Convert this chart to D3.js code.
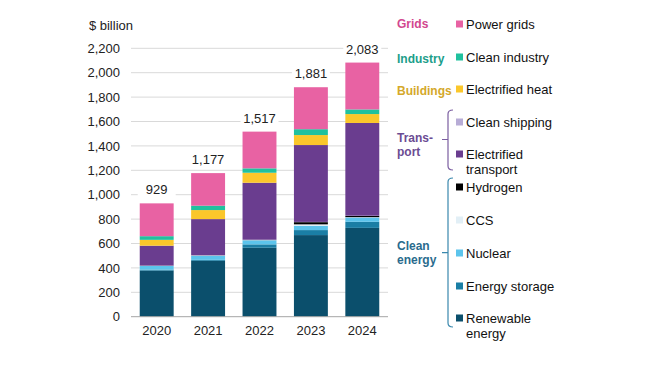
<!DOCTYPE html>
<html><head><meta charset="utf-8">
<script src="https://cdn.jsdelivr.net/npm/d3@7"></script>
<style>
html,body{margin:0;padding:0;background:#fff;}
svg{display:block;font-family:"Liberation Sans",Arial,sans-serif;}
</style></head>
<body><svg id="c" width="649" height="365"></svg>
<script>
const years = ["2020","2021","2022","2023","2024"];
const renewable = [378, 458, 565, 669, 728];
const storage   = [8, 8, 28, 41, 50];
const nuclear   = [30, 33, 33, 35, 35];
const ccs       = [1, 2, 2, 12, 3];
const hydrogen  = [1, 1, 1, 18, 10];
const shipping  = [1, 2, 2, 2, 2];
const transport = [163, 296, 467, 630, 760];
const heat      = [48, 74, 82, 82, 73];
const industry  = [30, 36, 36, 48, 38];
const grids     = [269, 267, 301, 344, 384];
const totals    = [929, 1177, 1517, 1881, 2083];
const yTicks = [0,200,400,600,800,1000,1200,1400,1600,1800,2000,2200];

const seriesNames = ["Renewable energy","Energy storage","Nuclear","CCS","Hydrogen","Clean shipping","Electrified transport","Electrified heat","Clean industry","Power grids"];
const seriesVals = [renewable, storage, nuclear, ccs, hydrogen, shipping, transport, heat, industry, grids];
const colors = ["#0b4f6c","#1a7ea5","#5cc4ec","#e2eff6","#000000","#b7acd6","#6a3d8f","#fbc72b","#20c19e","#e862a3"];

const svg = d3.select("#c");
const x = d3.scaleBand().domain(years).range([131, 388]).paddingInner(0.34).paddingOuter(0.17);
const y = d3.scaleLinear().domain([0, 2200]).range([316.7, 48.3]);

// gridlines
svg.append("g").selectAll("line").data(yTicks.filter(d=>d>0)).join("line")
  .attr("x1", 131).attr("x2", 388).attr("y1", d=>y(d)).attr("y2", d=>y(d))
  .attr("stroke", "#d9d9d9").attr("stroke-width", 1);

// y axis labels
const yAxis = d3.axisLeft(y).tickValues(yTicks).tickSize(0).tickPadding(0).tickFormat(d3.format(","));
const ya = svg.append("g").attr("transform","translate(120,0)").call(yAxis);
ya.select(".domain").remove();
ya.selectAll("text").attr("font-size", 13).attr("fill", "#222").style("font-family","Liberation Sans, Arial, sans-serif");

svg.append("text").attr("x", 133).attr("y", 30).attr("text-anchor","end")
  .attr("font-size", 13).attr("fill","#222").text("$ billion");

// stacked data
const rows = years.map((yr,i)=>{ const o={year:yr}; seriesNames.forEach((s,j)=>o[s]=seriesVals[j][i]); return o; });
const stack = d3.stack().keys(seriesNames)(rows);

svg.append("g").selectAll("g").data(stack).join("g")
  .attr("fill", (d,i)=>colors[i])
  .selectAll("rect").data(d=>d).join("rect")
  .attr("x", d=>x(d.data.year)).attr("width", x.bandwidth())
  .attr("y", d=>y(d[1])).attr("height", d=>y(d[0])-y(d[1]));

// baseline
svg.append("line").attr("x1",131).attr("x2",388).attr("y1",y(0)).attr("y2",y(0))
  .attr("stroke","#a6a6a6").attr("stroke-width",1);

// x axis labels
const xAxis = d3.axisBottom(x).tickSize(0).tickPadding(0);
const xa = svg.append("g").attr("transform", `translate(0,${y(0)+9})`).call(xAxis);
xa.select(".domain").remove();
xa.selectAll("text").attr("font-size", 13).attr("fill","#222").style("font-family","Liberation Sans, Arial, sans-serif");

// total labels with white background
const tl = svg.append("g").selectAll("g").data(years).join("g");
tl.append("rect")
  .attr("x", (d,i)=>x(d)+x.bandwidth()/2-19).attr("width", 38)
  .attr("y", (d,i)=>y(totals[i])-21).attr("height", 15).attr("fill","#fff");
tl.append("text")
  .attr("x", d=>x(d)+x.bandwidth()/2).attr("y", (d,i)=>y(totals[i])-9)
  .attr("text-anchor","middle").attr("font-size",13).attr("fill","#222")
  .text((d,i)=>d3.format(",")(totals[i]));

// legend
const legend = [
  {name:["Power grids"], c:colors[9], y:24},
  {name:["Clean industry"], c:colors[8], y:57},
  {name:["Electrified heat"], c:colors[7], y:89},
  {name:["Clean shipping"], c:colors[5], y:122},
  {name:["Electrified","transport"], c:colors[6], y:154},
  {name:["Hydrogen"], c:colors[4], y:187},
  {name:["CCS"], c:colors[3], y:220},
  {name:["Nuclear"], c:colors[2], y:253},
  {name:["Energy storage"], c:colors[1], y:286},
  {name:["Renewable","energy"], c:colors[0], y:318}
];
const lg = svg.append("g").selectAll("g").data(legend).join("g");
lg.append("rect").attr("x",456).attr("y",d=>d.y-3.5).attr("width",7).attr("height",7).attr("fill",d=>d.c);
lg.append("text").attr("x",466).attr("y",d=>d.y).attr("font-size",13).attr("fill","#111")
  .selectAll("tspan").data(d=>d.name.map((t,k)=>({t,k,y:d.y}))).join("tspan")
  .attr("x",466).attr("y",d=>d.y+d.k*15.5).attr("dy","0.36em").text(d=>d.t);

// group labels
const groups = [
  {lines:["Grids"], c:"#d2478f", y:24},
  {lines:["Industry"], c:"#1c9e8a", y:58.5},
  {lines:["Buildings"], c:"#d4a82a", y:91},
  {lines:["Trans-","port"], c:"#6b4c93", y:137.5},
  {lines:["Clean","energy"], c:"#2a6b8d", y:245.5}
];
svg.append("g").selectAll("text").data(groups).join("text")
  .attr("font-size",12).attr("font-weight","bold").attr("fill",d=>d.c)
  .selectAll("tspan").data(d=>d.lines.map((t,k)=>({t,k,y:d.y}))).join("tspan")
  .attr("x",397).attr("y",d=>d.y+d.k*14.5).attr("dy","0.36em").text(d=>d.t);

// brackets
function bracket(top, bottom, mid, color){
  const xv = 448, r = 4;
  const p = `M${xv+5},${top} Q${xv},${top} ${xv},${top+r} L${xv},${bottom-r} Q${xv},${bottom} ${xv+5},${bottom} M${xv},${mid} L${xv-6},${mid}`;
  svg.append("path").attr("d",p).attr("fill","none").attr("stroke",color).attr("stroke-width",1.2);
}
bracket(110, 170, 139.5, "#7b5ea0");
bracket(178, 327, 252.7, "#3a88ad");
</script></body></html>
